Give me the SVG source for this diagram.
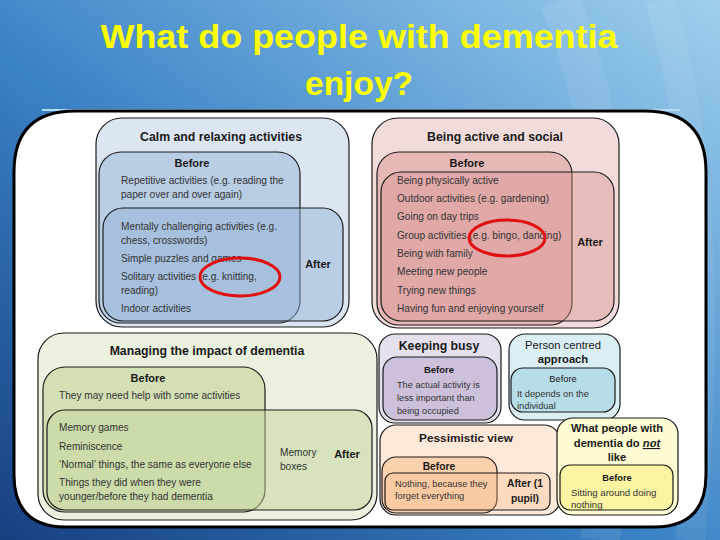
<svg xmlns="http://www.w3.org/2000/svg" width="720" height="540" viewBox="0 0 720 540">
<defs>
<linearGradient id="bg" x1="0" y1="1" x2="1" y2="0">
<stop offset="0" stop-color="#173f80"/>
<stop offset="0.45" stop-color="#3a82c6"/>
<stop offset="1" stop-color="#9fd0ee"/>
</linearGradient>
<style>
text{font-family:"Liberation Sans",Arial,sans-serif;fill:#1a1a1a}
.t{font-size:12.3px;font-weight:bold;text-anchor:middle}
.h{font-size:11px;font-weight:bold;text-anchor:middle}
.b{font-size:10.1px;fill:#333}
.s{font-size:9.3px;fill:#333}
.o{stroke:#1a1a1a;stroke-width:1.2}
.ring{fill:none;stroke:#e01010;stroke-width:3}
.ttl{font-size:33px;font-weight:bold;fill:#ffff00;text-anchor:middle}
</style>
</defs>
<rect x="0" y="0" width="720" height="540" fill="url(#bg)"/>
<path d="M560 0 Q640 200 600 540" fill="none" stroke="#ffffff" stroke-opacity="0.08" stroke-width="40"/>
<path d="M660 0 Q720 200 690 540" fill="none" stroke="#ffffff" stroke-opacity="0.07" stroke-width="30"/>
<text class="ttl" x="359" y="48" textLength="517" lengthAdjust="spacingAndGlyphs">What do people with dementia</text>
<text class="ttl" x="359" y="95" textLength="108" lengthAdjust="spacingAndGlyphs">enjoy?</text>
<line x1="42" y1="110" x2="680" y2="110" stroke="#b6dcf4" stroke-width="2"/>
<path id="panel" d="M75 111 H645 Q706 111 706 172 V475 Q706 527 654 527 H66 Q14 527 14 475 V172 Q14 111 75 111 Z" fill="#ffffff" stroke="#000" stroke-width="3"/>

<g id="calm">
<rect class="o" x="96" y="118" width="253" height="209" rx="26" fill="#dce6f2"/>
<rect class="o" x="99" y="152" width="201" height="171" rx="22" fill="#95b3d7" fill-opacity="0.5"/>
<rect class="o" x="103" y="208" width="240" height="113" rx="20" fill="#95b3d7" fill-opacity="0.5"/>
<text class="t" x="221" y="141">Calm and relaxing activities</text>
<text class="h" x="192" y="167">Before</text>
<text class="h" x="318" y="268">After</text>
<text class="b" x="121" y="184">Repetitive activities (e.g. reading the</text>
<text class="b" x="121" y="198">paper over and over again)</text>
<text class="b" x="121" y="230">Mentally challenging activities (e.g.</text>
<text class="b" x="121" y="244">chess, crosswords)</text>
<text class="b" x="121" y="262">Simple puzzles and games</text>
<text class="b" x="121" y="280">Solitary activities (e.g. knitting,</text>
<text class="b" x="121" y="294">reading)</text>
<text class="b" x="121" y="312">Indoor activities</text>
</g>

<g id="active">
<rect class="o" x="372" y="118" width="247" height="210" rx="26" fill="#f2dcdb"/>
<rect class="o" x="377" y="152" width="195" height="173" rx="22" fill="#d99694" fill-opacity="0.5"/>
<rect class="o" x="381" y="172" width="233" height="149" rx="20" fill="#d99694" fill-opacity="0.45"/>
<text class="t" x="495" y="141">Being active and social</text>
<text class="h" x="467" y="167">Before</text>
<text class="h" x="590" y="246">After</text>
<text class="b" x="397" y="184">Being physically active</text>
<text class="b" x="397" y="202">Outdoor activities (e.g. gardening)</text>
<text class="b" x="397" y="220">Going on day trips</text>
<text class="b" x="397" y="239">Group activities (e.g. bingo, dancing)</text>
<text class="b" x="397" y="257">Being with family</text>
<text class="b" x="397" y="275">Meeting new people</text>
<text class="b" x="397" y="294">Trying new things</text>
<text class="b" x="397" y="312">Having fun and enjoying yourself</text>
</g>

<g id="managing">
<rect class="o" x="38" y="333" width="339" height="187" rx="26" fill="#ebf1de"/>
<rect class="o" x="43" y="367" width="222" height="145" rx="22" fill="#c3d69b" fill-opacity="0.6"/>
<rect class="o" x="47" y="410" width="325" height="100" rx="18" fill="#c3d69b" fill-opacity="0.5"/>
<text class="t" x="207" y="355">Managing the impact of dementia</text>
<text class="h" x="148" y="382">Before</text>
<text class="h" x="347" y="458">After</text>
<text class="b" x="59" y="399">They may need help with some activities</text>
<text class="b" x="59" y="431">Memory games</text>
<text class="b" x="59" y="450">Reminiscence</text>
<text class="b" x="59" y="468">‘Normal’ things, the same as everyone else</text>
<text class="b" x="59" y="486">Things they did when they were</text>
<text class="b" x="59" y="500">younger/before they had dementia</text>
<text class="b" x="280" y="456">Memory</text>
<text class="b" x="280" y="470">boxes</text>
</g>

<g id="busy">
<rect class="o" x="379" y="334" width="122" height="89" rx="16" fill="#e5e0ec"/>
<rect class="o" x="383" y="357" width="114" height="63" rx="14" fill="#ccc0da"/>
<text class="t" x="439" y="350">Keeping busy</text>
<text class="h" x="439" y="373" style="font-size:9.5px">Before</text>
<text class="s" x="397" y="388" style="font-size:9.2px">The actual activity is</text>
<text class="s" x="397" y="401" style="font-size:9.2px">less important than</text>
<text class="s" x="397" y="414" style="font-size:9.2px">being occupied</text>
</g>

<g id="person">
<rect class="o" x="509" y="334" width="111" height="86" rx="16" fill="#dbeef4"/>
<rect class="o" x="511" y="368" width="104" height="44" rx="12" fill="#b7dde8"/>
<text x="563" y="349" style="font-size:11.2px;text-anchor:middle">Person centred</text>
<text class="t" x="563" y="363" style="font-size:11.2px">approach</text>
<text x="563" y="382" style="font-size:9.3px;text-anchor:middle">Before</text>
<text class="s" x="517" y="397">It depends on the</text>
<text class="s" x="517" y="409">individual</text>
</g>

<g id="pessimistic">
<rect class="o" x="380" y="425" width="180" height="90" rx="16" fill="#fde9d9"/>
<rect class="o" x="382" y="457" width="115" height="56" rx="14" fill="#fabf8f" fill-opacity="0.6"/>
<rect class="o" x="385" y="473" width="165" height="37" rx="8" fill="#fabf8f" fill-opacity="0.35"/>
<text class="t" x="466" y="442" style="font-size:11.8px">Pessimistic view</text>
<text class="h" x="439" y="470" style="font-size:10.3px">Before</text>
<text class="h" x="525" y="487" style="font-size:10.3px">After (1</text>
<text class="h" x="525" y="502" style="font-size:10.3px">pupil)</text>
<text class="s" x="395" y="487">Nothing, because they</text>
<text class="s" x="395" y="499">forget everything</text>
</g>

<g id="dislike">
<rect class="o" x="557" y="418" width="121" height="97" rx="16" fill="#fefcd2"/>
<rect class="o" x="560" y="465" width="113" height="45" rx="10" fill="#fbf4a3"/>
<text class="t" x="617" y="432" style="font-size:11.2px">What people with</text>
<text class="t" x="617" y="447" style="font-size:11.2px">dementia do <tspan font-style="italic" text-decoration="underline">not</tspan></text>
<text class="t" x="617" y="461" style="font-size:11.2px">like</text>
<text class="h" x="617" y="481" style="font-size:9.3px">Before</text>
<text class="s" x="571" y="496" style="font-size:9.6px">Sitting around doing</text>
<text class="s" x="571" y="508" style="font-size:9.6px">nothing</text>
</g>

<g id="annotations">
<ellipse class="ring" cx="240" cy="277" rx="40" ry="19"/>
<ellipse class="ring" cx="507" cy="238" rx="38" ry="18"/>
</g>
<g id="connectors"/>
</svg>
